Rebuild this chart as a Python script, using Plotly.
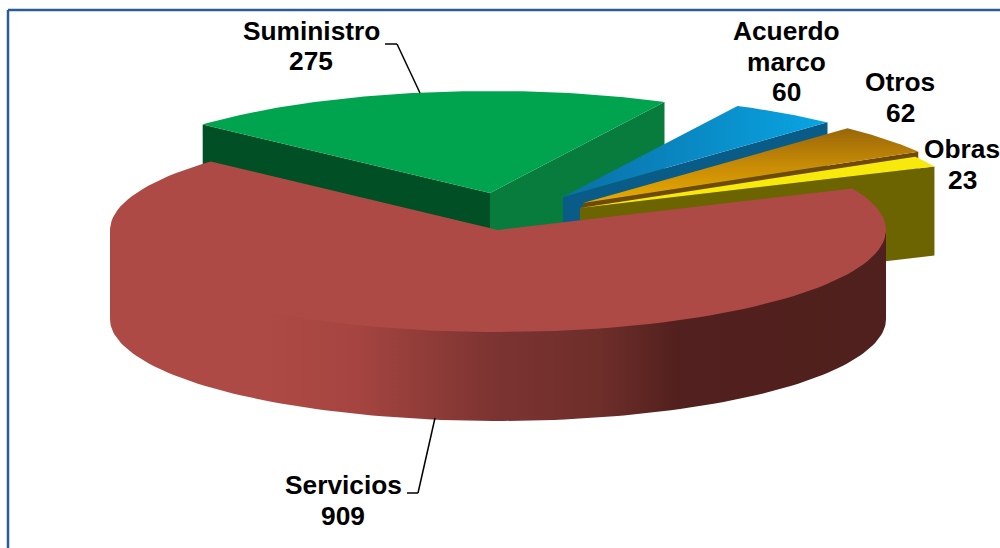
import numpy as np
import plotly.graph_objects as go

# data
labels = ['Obras', 'Otros', 'Acuerdo marco', 'Suministro', 'Servicios']
values = [23, 62, 60, 275, 909]

# chart geometry (pixels), exploded pie drawn as a projected ellipse
start_angle = 24
rx, ry, depth = 388, 102, 89
apex = {'Obras': (580, 208), 'Otros': (583, 203), 'Acuerdo marco': (563, 197),
        'Suministro': (490, 193), 'Servicios': (498, 230)}

top_colors = {'Suministro': '#00a44f', 'Servicios': '#ae4a45', 'Obras': '#f7e90c'}
blue_top = [[0, '#0b6fa6'], [1, '#08a6e4']]
gold_top = [[0, '#996608'], [0.5, '#c68a06'], [1, '#e8a800']]
red_side = [[0, '#ae4a45'], [0.2, '#ae4a45'], [0.32, '#a54441'], [0.41, '#8f3c38'], [0.49, '#7d3432'],
            [0.63, '#6e2e2a'], [0.73, '#52201e'], [1, '#4f201d']]

total = sum(values)
angles = {}
a = start_angle
for name, v in zip(labels, values):
    angles[name] = (a, a + v / total * 360)
    a += v / total * 360


def rim(name, a0, a1, n=120):
    cx, cy = apex[name]
    t = np.radians(np.linspace(a0, a1, n))
    return cx + rx * np.cos(t), cy - ry * np.sin(t)


def corner(name, ang):
    x, y = rim(name, ang, ang, 1)
    return x[0], y[0]


def add_poly(fig, x, y, color=None, gradient=None):
    trace = dict(x=list(x), y=list(y), mode='lines', fill='toself',
                 line=dict(width=0), hoverinfo='skip', showlegend=False)
    if gradient:
        trace['fillgradient'] = gradient
    else:
        trace['fillcolor'] = color
    fig.add_trace(go.Scatter(**trace))


def add_top(fig, name, color=None, gradient=None):
    a0, a1 = angles[name]
    x, y = rim(name, a0, a1)
    cx, cy = apex[name]
    add_poly(fig, [cx, *x, cx], [cy, *y, cy], color, gradient)


def add_face(fig, name, ang, color):
    cx, cy = apex[name]
    x, y = corner(name, ang)
    add_poly(fig, [cx, x, x, cx, cx], [cy, y, y + depth, cy + depth, cy], color)


fig = go.Figure()

# back to front
a0, a1 = angles['Suministro']
add_face(fig, 'Suministro', a1, '#014f24')
add_face(fig, 'Suministro', a0, '#077c3c')
add_top(fig, 'Suministro', top_colors['Suministro'])

a0, a1 = angles['Acuerdo marco']
add_face(fig, 'Acuerdo marco', a0, '#0a5c88')
add_top(fig, 'Acuerdo marco', gradient=dict(type='horizontal', colorscale=blue_top, start=565, stop=830))

a0, a1 = angles['Otros']
add_face(fig, 'Otros', a0, '#6e4a04')
add_top(fig, 'Otros', gradient=dict(type='vertical', colorscale=gold_top, start=128, stop=200))

a0, a1 = angles['Obras']
add_face(fig, 'Obras', a0, '#6b6400')
add_top(fig, 'Obras', top_colors['Obras'])

# big slice, its outer wall first (wall starts a little under the top face to hide the seam)
x, y = rim('Servicios', 180, 360)
add_poly(fig, [*x, *x[::-1]], [*(y - 4), *(y[::-1] + depth)],
         gradient=dict(type='horizontal', colorscale=red_side, start=110, stop=887))
add_top(fig, 'Servicios', top_colors['Servicios'])

# one entry per printed line: text, x, y
label_lines = [
    ('Suministro', 311, 31), (str(values[3]), 311, 61),
    ('Acuerdo', 786, 31), ('marco', 786, 62), (str(values[2]), 786, 92),
    ('Otros', 900, 82), (str(values[1]), 900, 113),
    ('Obras', 962, 149), (str(values[0]), 962, 180),
    ('Servicios', 343, 485), (str(values[4]), 343, 516),
]
annotations = [dict(text='<b>' + t + '</b>', x=px, y=py, xref='x', yref='y', showarrow=False,
                    xanchor='center', yanchor='middle',
                    font=dict(family='Liberation Sans', size=26.3, color='black'))
               for t, px, py in label_lines]

leader = dict(color='black', width=1.5)
frame = dict(color='#2a5c96', width=2.5)
shapes = [
    dict(type='line', x0=385, y0=44, x1=397, y1=44, line=leader),
    dict(type='line', x0=397, y0=44, x1=420, y1=93, line=leader),
    dict(type='line', x0=407, y0=493, x1=418, y1=493, line=leader),
    dict(type='line', x0=418, y0=493, x1=435, y1=418, line=leader),
    dict(type='line', x0=8, y0=10, x1=1000, y1=10, line=frame),
    dict(type='line', x0=8, y0=10, x1=8, y1=548, line=frame),
]

fig.update_layout(
    width=1000, height=548,
    margin=dict(l=0, r=0, t=0, b=0),
    paper_bgcolor='white', plot_bgcolor='white',
    xaxis=dict(range=[0, 1000], visible=False, fixedrange=True),
    yaxis=dict(range=[548, 0], visible=False, fixedrange=True),
    annotations=annotations,
    shapes=shapes,
)

# the browser's default body margin would shift the chart by 8px
fig.write_html("out.html", config=dict(displayModeBar=False),
               post_script="document.body.style.margin='0';document.body.style.overflow='hidden';")
